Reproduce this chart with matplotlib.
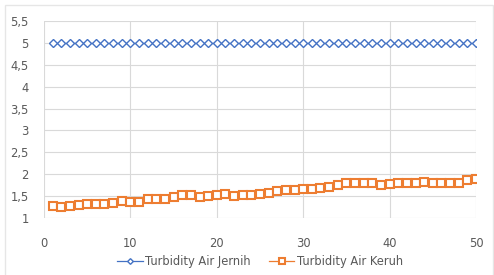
import matplotlib.pyplot as plt
import numpy as np
from matplotlib.ticker import FuncFormatter

# sample index 1..50
samples = list(range(1, 51))
jernih = [5.0] * 50
keruh = [1.27, 1.25, 1.27, 1.29, 1.32, 1.32, 1.32, 1.35, 1.39, 1.37,
         1.37, 1.44, 1.43, 1.44, 1.47, 1.52, 1.52, 1.49, 1.50, 1.53,
         1.55, 1.51, 1.53, 1.52, 1.55, 1.57, 1.62, 1.63, 1.63, 1.66,
         1.67, 1.68, 1.71, 1.75, 1.80, 1.80, 1.80, 1.80, 1.76, 1.78,
         1.80, 1.81, 1.80, 1.82, 1.81, 1.79, 1.80, 1.80, 1.87, 1.88]
x_ticks = [0, 10, 20, 30, 40, 50]
y_ticks = [1, 1.5, 2, 2.5, 3, 3.5, 4, 4.5, 5, 5.5]

blue = '#4472C4'
orange = '#ED7D31'
grid_c = '#D9D9D9'
text_c = '#595959'

fig = plt.figure(figsize=(4.94, 2.75), dpi=100)
# outer chart border (bottom edge falls outside the picture)
fig.patches.append(plt.Rectangle((5 / 494, -0.05), 488 / 494, 1.05 - 5 / 275,
                                 transform=fig.transFigure, fill=False,
                                 edgecolor='#E6E6E6', linewidth=1.0))
ax = fig.add_axes([44 / 494, 1 - 218 / 275, 432 / 494, 197 / 275])

ax.plot(samples, jernih, color=blue, linewidth=0.9, marker='D', markersize=3.6,
        markerfacecolor='white', markeredgecolor=blue, markeredgewidth=1.0,
        label='Turbidity Air Jernih', zorder=3)
ax.plot(samples, keruh, color=orange, linewidth=0.9, marker='s', markersize=5.8,
        markerfacecolor='white', markeredgecolor=orange, markeredgewidth=1.5,
        label='Turbidity Air Keruh', zorder=3)

ax.set_xlim(0, 50)
ax.set_ylim(1, 5.5)
ax.set_xticks(x_ticks)
ax.set_yticks(y_ticks)
ax.yaxis.set_major_formatter(FuncFormatter(lambda v, p: ('%g' % v).replace('.', ',')))
ax.grid(True, color=grid_c, linewidth=0.8)
ax.set_axisbelow(True)
for s in ax.spines.values():
    s.set_visible(False)
ax.tick_params(length=0, labelsize=8.3, labelcolor=text_c)
ax.tick_params(axis='x', pad=14)
ax.tick_params(axis='y', pad=11)

leg = ax.legend(loc='center', bbox_to_anchor=(0.5, -44 / 197), ncol=2, frameon=False,
                fontsize=8.3, handlelength=2.2, columnspacing=1.6, handletextpad=0.2,
                markerscale=0.8)
for t in leg.get_texts():
    t.set_color(text_c)

fig.savefig('out.png', dpi=100)
